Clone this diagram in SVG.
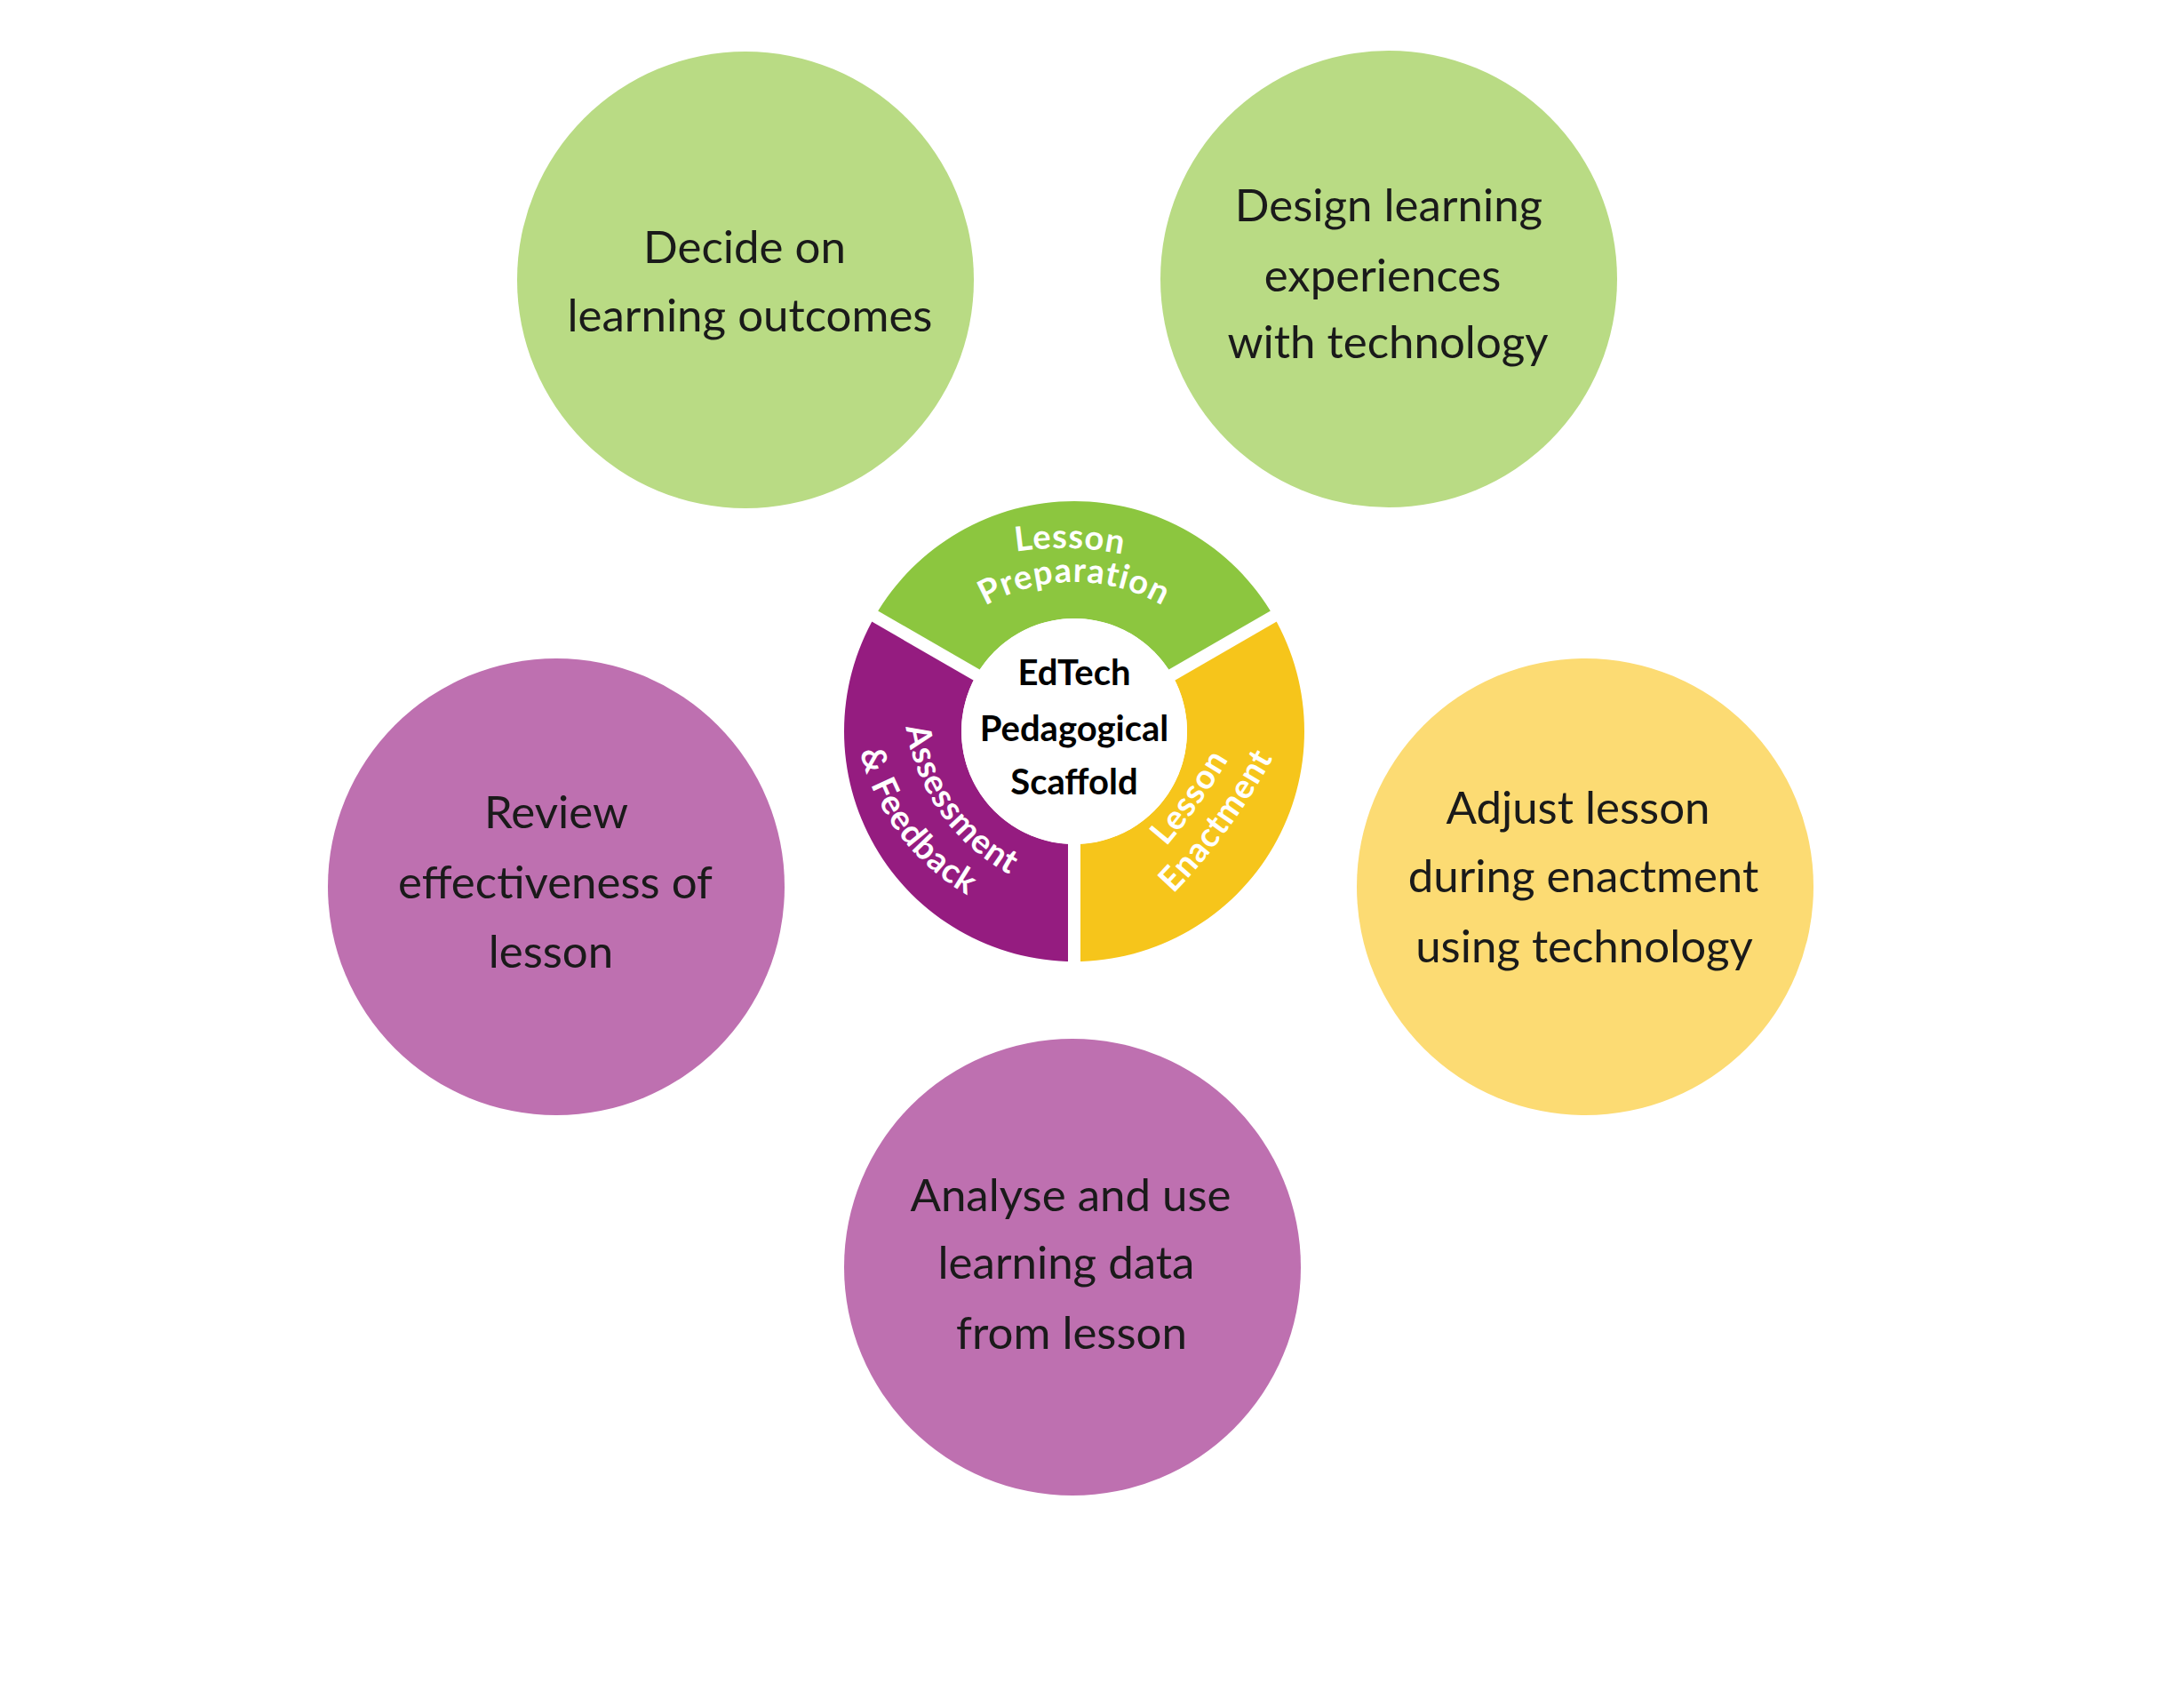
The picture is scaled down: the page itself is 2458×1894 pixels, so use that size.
<svg xmlns="http://www.w3.org/2000/svg" width="2458" height="1894" viewBox="0 0 2458 1894">
<style>
.bg{fill:#ffffff}
.lg{fill:#B9DB84}
.pu{fill:#BE70B0}
.ye{fill:#FCDB73}
.ct{font-family:Lato,"Open Sans","Liberation Sans",sans-serif;font-size:51px;fill:#1a1a1a;text-anchor:middle}
.rt{font-family:Lato,"Open Sans","Liberation Sans",sans-serif;font-size:38px;font-weight:700;letter-spacing:1px;fill:#ffffff;text-anchor:middle}
.mt{font-family:Lato,"Open Sans","Liberation Sans",sans-serif;font-size:40px;font-weight:700;fill:#000000;text-anchor:middle}
.gap{stroke:#ffffff;stroke-width:14;fill:none}
</style>
<defs>
<path id="pLessonTop" d="M1029,663.9 A350,350 0 0 1 1379,663.9"/>
<path id="pPrep" d="M1035.8,755 A200,200 0 0 1 1382.2,755"/>
<path id="pAssess" d="M1024.8,728.1 A225,225 0 0 0 1223.5,1009.8"/>
<path id="pFeed" d="M963.4,749.8 A255.8,255.8 0 0 0 1180.6,1039"/>
<path id="pLessonR" d="M1249.6,1017.4 A700,700 0 0 0 1424,773.2"/>
<path id="pEnact" d="M1280.2,1044.4 A700,700 0 0 0 1457.6,802.2"/>
</defs>
<rect class="bg" x="0" y="0" width="2458" height="1894"/>

<g id="node-decide">
<circle class="lg" cx="839" cy="315" r="257"/>
<text class="ct" x="838" y="296">Decide on</text>
<text class="ct" x="844" y="373">learning outcomes</text>
</g>

<g id="node-design">
<circle class="lg" cx="1563" cy="314" r="257"/>
<text class="ct" x="1563" y="249">Design learning</text>
<text class="ct" x="1556" y="328">experiences</text>
<text class="ct" x="1562" y="403">with technology</text>
</g>

<g id="node-review">
<circle class="pu" cx="626" cy="998" r="257"/>
<text class="ct" x="626" y="932">Review</text>
<text class="ct" x="625" y="1011">effectiveness of</text>
<text class="ct" x="620" y="1089">lesson</text>
</g>

<g id="node-adjust">
<circle class="ye" cx="1784" cy="998" r="257"/>
<text class="ct" x="1776" y="927">Adjust lesson</text>
<text class="ct" x="1782" y="1004">during enactment</text>
<text class="ct" x="1783" y="1083">using technology</text>
</g>

<g id="node-analyse">
<circle class="pu" cx="1207" cy="1426" r="257"/>
<text class="ct" x="1205" y="1363">Analyse and use</text>
<text class="ct" x="1200" y="1439">learning data</text>
<text class="ct" x="1206" y="1518">from lesson</text>
</g>

<g id="node-scaffold">
<path fill="#8CC63F" d="M984.7,693.5 A259,259 0 0 1 1433.3,693.5 L1319,759.5 A127,127 0 0 0 1099,759.5 Z"/>
<path fill="#F6C51B" d="M1433.3,693.5 A259,259 0 0 1 1209,1082 L1209,950 A127,127 0 0 0 1319,759.5 Z"/>
<path fill="#951C80" d="M1209,1082 A259,259 0 0 1 984.7,693.5 L1099,759.5 A127,127 0 0 0 1209,950 Z"/>
<line class="gap" x1="1209" y1="823" x2="1209" y2="1095"/>
<line class="gap" x1="1209" y1="823" x2="966.5" y2="683"/>
<line class="gap" x1="1209" y1="823" x2="1451.5" y2="683"/>
<circle fill="#ffffff" cx="1209" cy="823" r="127"/>
<text class="rt" transform="rotate(1.5 1204 617)"><textPath href="#pLessonTop" startOffset="50%">Lesson</textPath></text>
<text class="rt"><textPath href="#pPrep" startOffset="50%">Preparation</textPath></text>
<text class="rt"><textPath href="#pAssess" startOffset="50%">Assessment</textPath></text>
<text class="rt"><textPath href="#pFeed" startOffset="50%">&amp; Feedback</textPath></text>
<text class="rt"><textPath href="#pLessonR" startOffset="50%">Lesson</textPath></text>
<text class="rt"><textPath href="#pEnact" startOffset="50%">Enactment</textPath></text>
<text class="mt" x="1209" y="771">EdTech</text>
<text class="mt" x="1209" y="834">Pedagogical</text>
<text class="mt" x="1209" y="894">Scaffold</text>
</g>

<g id="connectors"/>
</svg>
